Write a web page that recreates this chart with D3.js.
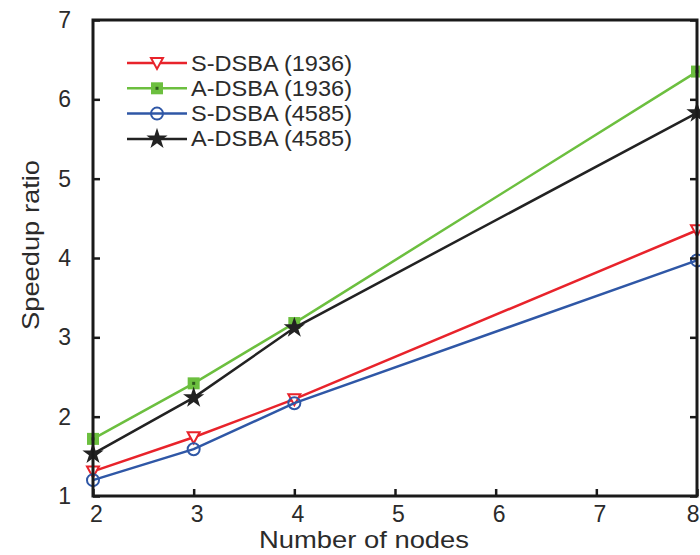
<!DOCTYPE html>
<html>
<head>
<meta charset="utf-8">
<script src="https://cdn.jsdelivr.net/npm/d3@7"></script>
<style>
  body { margin: 0; background: #fff; }
  text { font-family: "Liberation Sans", Arial, sans-serif; fill: #2b2b2b; }
</style>
</head>
<body>
<svg id="canvas"></svg>
<script>
// data
let nodes = [2, 3, 4, 8]
let sDsba1936 = [1.31, 1.74, 2.22, 4.35]
let aDsba1936 = [1.72, 2.42, 3.18, 6.35]
let sDsba4585 = [1.20, 1.59, 2.17, 3.97]
let aDsba4585 = [1.53, 2.24, 3.12, 5.83]
let seriesNames = ['S-DSBA (1936)', 'A-DSBA (1936)', 'S-DSBA (4585)', 'A-DSBA (4585)']
let xTicks = [2, 3, 4, 5, 6, 7, 8]
let yTicks = [1, 2, 3, 4, 5, 6, 7]

let width = 700
let height = 555
let plotLeft = 93, plotRight = 697, plotTop = 20, plotBottom = 496

let svg = d3.select('#canvas').attr('width', width).attr('height', height)

let xScale = d3.scaleLinear().domain([2, 8]).range([plotLeft, plotRight])
let yScale = d3.scaleLinear().domain([1, 7]).range([plotBottom, plotTop])

let series = [
  { name: seriesNames[0], values: sDsba1936, color: '#e8232b', marker: 'triangle' },
  { name: seriesNames[1], values: aDsba1936, color: '#6cbf3f', marker: 'square' },
  { name: seriesNames[2], values: sDsba4585, color: '#2f57a6', marker: 'circle' },
  { name: seriesNames[3], values: aDsba4585, color: '#222222', marker: 'star' }
]

let drawMarker = (g, s, x, y) => {
  if (s.marker === 'triangle') {
    g.append('path')
      .attr('d', `M${x - 6},${y - 5} L${x + 6},${y - 5} L${x},${y + 6} Z`)
      .attr('fill', '#fff').attr('stroke', s.color).attr('stroke-width', 2)
  } else if (s.marker === 'square') {
    g.append('rect')
      .attr('x', x - 6).attr('y', y - 6).attr('width', 12).attr('height', 12)
      .attr('fill', s.color)
    g.append('rect')
      .attr('x', x - 1.5).attr('y', y - 1.5).attr('width', 3).attr('height', 3)
      .attr('fill', '#2d5a1c')
  } else if (s.marker === 'circle') {
    g.append('circle')
      .attr('cx', x).attr('cy', y).attr('r', 6)
      .attr('fill', 'none').attr('stroke', s.color).attr('stroke-width', 2)
  } else {
    g.append('path')
      .attr('d', d3.symbol().type(d3.symbolStar).size(140)())
      .attr('transform', `translate(${x},${y})`)
      .attr('fill', s.color)
  }
}

// series
let line = d3.line()
  .x((d, i) => xScale(nodes[i]))
  .y((d) => yScale(d))

series.forEach((s) => {
  svg.append('path')
    .datum(s.values)
    .attr('d', line)
    .attr('fill', 'none')
    .attr('stroke', s.color)
    .attr('stroke-width', 2.5)
  let g = svg.append('g')
  s.values.forEach((v, i) => drawMarker(g, s, xScale(nodes[i]), yScale(v)))
})

// frame with inward ticks
let frame = svg.append('g')
let xAxis = frame.append('g')
  .attr('transform', `translate(0,${plotBottom})`)
  .call(d3.axisBottom(xScale).tickValues(xTicks).tickSize(-7).tickPadding(10).tickFormat(d3.format('d')))
frame.append('g')
  .attr('transform', `translate(${plotLeft},0)`)
  .call(d3.axisLeft(yScale).tickValues(yTicks).tickSize(-7).tickPadding(22).tickFormat(d3.format('d')))
frame.append('g')
  .attr('transform', `translate(${plotRight},0)`)
  .call(d3.axisRight(yScale).tickValues(yTicks).tickSize(-7).tickFormat(''))
frame.selectAll('.domain').remove()
frame.selectAll('.tick line').attr('stroke', '#1a1a1a').attr('stroke-width', 2.5)
frame.selectAll('.tick text').attr('font-size', 23).attr('fill', '#2b2b2b')
  .style('font-family', '"Liberation Sans", Arial, sans-serif')
xAxis.selectAll('.tick text').attr('dx', 3)
xAxis.selectAll('.tick text').filter((d) => d === 8)
  .attr('text-anchor', 'end').attr('dx', 0).attr('x', 2)

svg.append('rect')
  .attr('x', plotLeft).attr('y', plotTop)
  .attr('width', plotRight - plotLeft).attr('height', plotBottom - plotTop)
  .attr('fill', 'none').attr('stroke', '#1a1a1a').attr('stroke-width', 3)

// axis titles
svg.append('text')
  .attr('x', 364).attr('y', 548)
  .attr('text-anchor', 'middle').attr('font-size', 24)
  .attr('textLength', 210).attr('lengthAdjust', 'spacingAndGlyphs')
  .text('Number of nodes')
svg.append('text')
  .attr('transform', `translate(39,245) rotate(-90)`)
  .attr('text-anchor', 'middle').attr('font-size', 24)
  .attr('textLength', 170).attr('lengthAdjust', 'spacingAndGlyphs')
  .text('Speedup ratio')

// legend
let legend = svg.append('g')
series.forEach((s, i) => {
  let y = 63 + i * 25.3
  legend.append('line')
    .attr('x1', 127).attr('x2', 187).attr('y1', y).attr('y2', y)
    .attr('stroke', s.color).attr('stroke-width', 2.5)
  drawMarker(legend, s, 157, y)
  legend.append('text')
    .attr('x', 191).attr('y', y + 7.5)
    .attr('font-size', 22)
    .attr('textLength', 161).attr('lengthAdjust', 'spacingAndGlyphs')
    .text(s.name)
})
</script>
</body>
</html>
